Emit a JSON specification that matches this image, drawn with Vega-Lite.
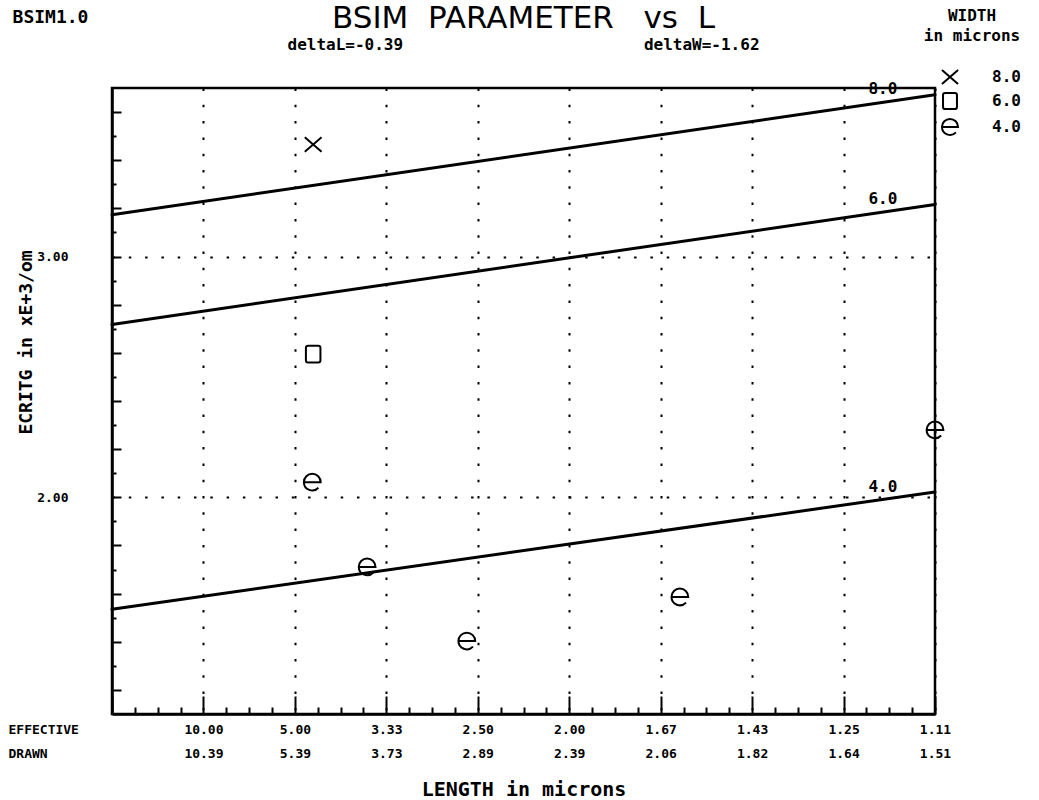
{
  "$schema": "https://vega.github.io/schema/vega-lite/v6.json",
  "width": 823,
  "height": 626,
  "autosize": {"type": "none"},
  "padding": {"left": 112, "top": 88, "right": 104, "bottom": 86},
  "background": "white",
  "config": {
    "view": {"stroke": "black", "strokeWidth": 2.5},
    "font": "DejaVu Sans Mono",
    "axis": {"labelColor": "black", "titleColor": "black", "domainColor": "black", "tickColor": "black", "gridColor": "black"}
  },
  "title": {
    "text": "BSIM\u00a0\u00a0PARAMETER\u00a0\u00a0\u00a0vs\u00a0\u00a0L",
    "subtitle": "deltaL=-0.39\u00a0\u00a0\u00a0\u00a0\u00a0\u00a0\u00a0\u00a0\u00a0\u00a0\u00a0\u00a0\u00a0\u00a0\u00a0\u00a0\u00a0\u00a0\u00a0\u00a0\u00a0\u00a0\u00a0\u00a0\u00a0deltaW=-1.62\u00a0\u00a0\u00a0\u00a0\u00a0",
    "font": "DejaVu Sans",
    "fontSize": 31,
    "fontWeight": "normal",
    "color": "black",
    "subtitleFont": "DejaVu Sans Mono",
    "subtitleFontSize": 16,
    "subtitleFontWeight": "bold",
    "subtitleColor": "black",
    "subtitlePadding": 2,
    "anchor": "middle",
    "frame": "group",
    "offset": -46
  },
  "datasets": {
    "fits": [
      {"w": "8.0", "invL": 0, "ecritg": 3.174},
      {"w": "8.0", "invL": 0.9, "ecritg": 3.672},
      {"w": "6.0", "invL": 0, "ecritg": 2.718},
      {"w": "6.0", "invL": 0.9, "ecritg": 3.216},
      {"w": "4.0", "invL": 0, "ecritg": 1.535},
      {"w": "4.0", "invL": 0.9, "ecritg": 2.022}
    ],
    "measured": [
      {"w": "8.0", "invL": 0.220, "ecritg": 3.465},
      {"w": "6.0", "invL": 0.220, "ecritg": 2.595},
      {"w": "4.0", "invL": 0.219, "ecritg": 2.063},
      {"w": "4.0", "invL": 0.279, "ecritg": 1.711},
      {"w": "4.0", "invL": 0.388, "ecritg": 1.403},
      {"w": "4.0", "invL": 0.621, "ecritg": 1.586},
      {"w": "4.0", "invL": 0.900, "ecritg": 2.280}
    ],
    "curveLabels": [
      {"t": "8.0", "invL": 0.843, "ecritg": 3.696},
      {"t": "6.0", "invL": 0.843, "ecritg": 3.239},
      {"t": "4.0", "invL": 0.843, "ecritg": 2.043}
    ]
  },
  "encoding": {
    "y": {
      "field": "ecritg", "type": "quantitative",
      "scale": {"domain": [1.1, 3.7], "nice": false, "zero": false},
      "axis": {
        "orient": "left",
        "values": [1.2,1.3,1.4,1.5,1.6,1.7,1.8,1.9,2,2.1,2.2,2.3,2.4,2.5,2.6,2.7,2.8,2.9,3,3.1,3.2,3.3,3.4,3.5,3.6],
        "domainWidth": 2.5,
        "tickWidth": 2,
        "tickSize": {"condition": {"test": "abs(datum.value*5-round(datum.value*5))<0.001", "value": -9}, "value": -4},
        "grid": true,
        "gridDash": [2.5, 13.8],
        "gridWidth": 2,
        "gridOpacity": {"condition": {"test": "datum.value==2||datum.value==3", "value": 1}, "value": 0},
        "labelExpr": "datum.value==2 ? '2.00' : datum.value==3 ? '3.00' : ''",
        "labelFont": "DejaVu Sans Mono",
        "labelFontSize": 13,
        "labelFontWeight": "bold",
        "labelPadding": 53,
        "labelOverlap": false,
        "labelFlush": false,
        "title": "ECRITG in xE+3/om",
        "titleFont": "DejaVu Sans Mono",
        "titleFontSize": 18,
        "titleFontWeight": "bold",
        "titleAngle": 270,
        "titleX": -86,
        "titleY": 254,
        "titleAlign": "center",
        "titleBaseline": "middle"
      }
    }
  },
  "layer": [
    {
      "data": {"name": "fits"},
      "mark": {"type": "line", "color": "black", "strokeWidth": 3, "strokeCap": "round"},
      "encoding": {
        "detail": {"field": "w", "type": "nominal"},
        "x": {
          "field": "invL", "type": "quantitative",
          "scale": {"domain": [0, 0.9], "nice": false, "zero": false},
          "axis": {
            "orient": "bottom",
            "values": [0,0.025,0.05,0.075,0.1,0.125,0.15,0.175,0.2,0.225,0.25,0.275,0.3,0.325,0.35,0.375,0.4,0.425,0.45,0.475,0.5,0.525,0.55,0.575,0.6,0.625,0.65,0.675,0.7,0.725,0.75,0.775,0.8,0.825,0.85,0.875,0.9],
            "domainWidth": 2.5,
            "tickWidth": 2,
            "tickSize": {"condition": {"test": "abs(datum.value*10-round(datum.value*10))<0.001", "value": -18}, "value": -7},
            "grid": true,
            "gridDash": [2.5, 13.8],
            "gridWidth": 2,
            "gridOpacity": {"condition": {"test": "abs(datum.value*10-round(datum.value*10))<0.001 && datum.value>0.01", "value": 1}, "value": 0},
            "labelExpr": "abs(datum.value*10-round(datum.value*10))<0.001 ? [['EFFECTIVE','DRAWN'],['10.00','10.39'],['5.00','5.39'],['3.33','3.73'],['2.50','2.89'],['2.00','2.39'],['1.67','2.06'],['1.43','1.82'],['1.25','1.64'],['1.11','1.51']][round(datum.value*10)] : ''",
            "labelFont": "DejaVu Sans Mono",
            "labelFontSize": 13,
            "labelFontWeight": "bold",
            "labelLineHeight": 24,
            "labelBaseline": "top",
            "labelAlign": {"condition": {"test": "datum.value==0", "value": "left"}, "value": "center"},
            "labelOffset": {"condition": {"test": "datum.value==0", "value": -104}, "value": 0},
            "labelPadding": 27,
            "labelFlush": false,
            "labelOverlap": false,
            "labelBound": false,
            "title": "LENGTH in microns",
            "titleFont": "DejaVu Sans Mono",
            "titleFontSize": 20,
            "titleFontWeight": "bold",
            "titleY": 75,
            "titleBaseline": "middle"
          }
        }
      }
    },
    {
      "data": {"name": "measured"},
      "mark": {"type": "point", "filled": false, "color": "black", "strokeWidth": 2, "size": 500, "opacity": 1},
      "encoding": {
        "x": {
          "field": "invL", "type": "quantitative",
          "axis": {
            "orient": "top",
            "labels": false, "ticks": false, "domain": false, "grid": false,
            "title": "BSIM1.0",
            "titleFont": "DejaVu Sans Mono",
            "titleFontSize": 18,
            "titleFontWeight": "bold",
            "titleAngle": 0,
            "titleX": -62,
            "titleY": -71,
            "titleAlign": "center",
            "titleBaseline": "middle"
          }
        },
        "shape": {
          "field": "w", "type": "nominal",
          "scale": {
            "domain": ["8.0", "6.0", "4.0"],
            "range": [
              "M-0.75,-0.65L0.75,0.65M-0.75,0.65L0.75,-0.65",
              "M-0.45,-0.75H0.45Q0.65,-0.75 0.65,-0.55V0.55Q0.65,0.75 0.45,0.75H-0.45Q-0.65,0.75 -0.65,0.55V-0.55Q-0.65,-0.75 -0.45,-0.75Z",
              "M-0.75,0H0.75A0.75,0.75 0 0 0 -0.75,0A0.75,0.75 0 0 0 0.55,0.5"
            ]
          },
          "legend": {
            "orient": "none",
            "legendX": 812,
            "legendY": -80,
            "padding": 0,
            "title": ["WIDTH", "in microns"],
            "titleFont": "DejaVu Sans Mono",
            "titleFontSize": 16,
            "titleFontWeight": "bold",
            "titleColor": "black",
            "titleAlign": "center",
            "titleAnchor": "middle",
            "titleLineHeight": 20,
            "titlePadding": 21,
            "labelFont": "DejaVu Sans Mono",
            "labelFontSize": 16,
            "labelFontWeight": "bold",
            "labelColor": "black",
            "labelOffset": 30,
            "symbolOffset": 14,
            "symbolSize": 460,
            "symbolStrokeWidth": 2,
            "symbolStrokeColor": "black",
            "symbolFillColor": "transparent",
            "rowPadding": 0
          }
        }
      }
    },
    {
      "data": {"name": "curveLabels"},
      "mark": {"type": "text", "font": "DejaVu Sans Mono", "fontSize": 16, "fontWeight": "bold", "color": "black", "baseline": "middle", "align": "center"},
      "encoding": {
        "x": {"field": "invL", "type": "quantitative", "axis": null},
        "text": {"field": "t", "type": "nominal"}
      }
    }
  ],
  "resolve": {"axis": {"x": "independent"}}
}
